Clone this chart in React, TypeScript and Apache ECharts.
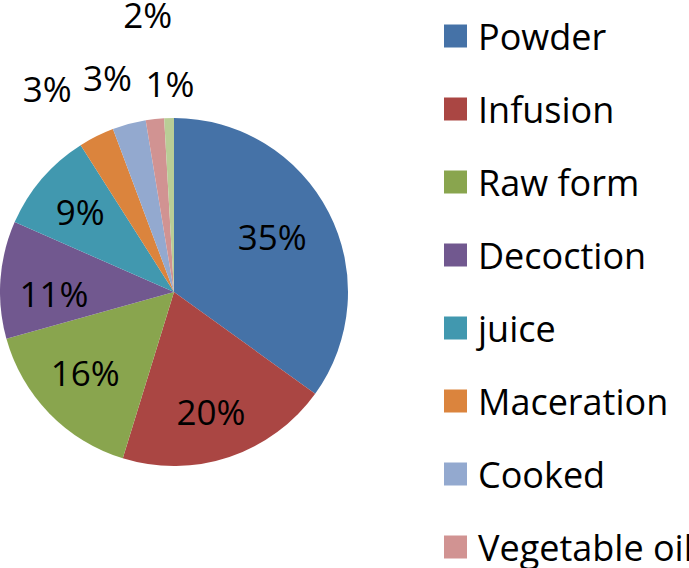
import React, { useEffect, useRef } from "react";
import * as echarts from "echarts";

const categories = ["Powder", "Infusion", "Raw form", "Decoction", "juice", "Maceration", "Cooked", "Vegetable oil", "Other"];
const values = [34.9, 19.8, 15.9, 10.9, 9.4, 3.3, 3.1, 1.7, 0.9];
const legendNames = ["Powder", "Infusion", "Raw form", "Decoction", "juice", "Maceration", "Cooked", "Vegetable oil"];
const colors = ["#4572A7", "#AA4643", "#89A54E", "#71588F", "#4198AF", "#DB843D", "#93A9CF", "#D19392", "#B9CD96"];

// label placement style (radius factor, angle shift in degrees)
const labelRadius = [0.65, 0.72, 0.69, 0.69, 0.71, 1.38, 1.29, 1.6, 1.2];
const labelShift = [-2.5, 1.4, 1.9, -4.8, 0, -5.4, -2.3, 0.9, 0.5];

const CX = 174;
const CY = 292;
const R = 174;

export default function App() {
  const ref = useRef<HTMLDivElement>(null);
  useEffect(() => {
    document.body.style.margin = "0";
    const chart = echarts.init(ref.current!, null, { renderer: "svg" });
    const total = values.reduce((a, b) => a + b, 0);
    const mids: number[] = [];
    let acc = 0;
    values.forEach((v) => {
      mids.push(((acc + v / 2) / total) * 360);
      acc += v;
    });
    chart.setOption({
      animation: false,
      backgroundColor: "#ffffff",
      color: colors,
      legend: {
        orient: "vertical",
        left: 444,
        top: 16,
        height: 560,
        padding: 0,
        icon: "rect",
        itemWidth: 23,
        itemHeight: 23,
        itemGap: 33,
        data: legendNames,
        textStyle: {
          fontFamily: "Open Sans",
          fontSize: 36,
          lineHeight: 40,
          color: "#000",
          padding: [0, 0, 0, 6],
        },
      },
      series: [
        {
          type: "pie",
          center: [CX, CY],
          radius: [0, R],
          startAngle: 90,
          clockwise: true,
          avoidLabelOverlap: false,
          data: categories.map((name, i) => ({ name, value: values[i] })),
          itemStyle: { borderWidth: 0 },
          emphasis: { disabled: true },
          label: {
            show: true,
            position: "inside",
            fontFamily: "Open Sans",
            fontSize: 35,
            color: "#000",
            formatter: (p: any) => Math.round(p.percent) + "%",
          },
          labelLine: { show: false },
          labelLayout: (p: any) => {
            const i = p.dataIndex;
            const a = ((mids[i] + labelShift[i]) * Math.PI) / 180;
            const d = labelRadius[i] * R;
            return {
              x: CX + d * Math.sin(a),
              y: CY - d * Math.cos(a),
              align: "center",
              verticalAlign: "middle",
            };
          },
        },
      ],
    });
    return () => chart.dispose();
  }, []);
  return <div ref={ref} style={{ width: 689, height: 568 }} />;
}
